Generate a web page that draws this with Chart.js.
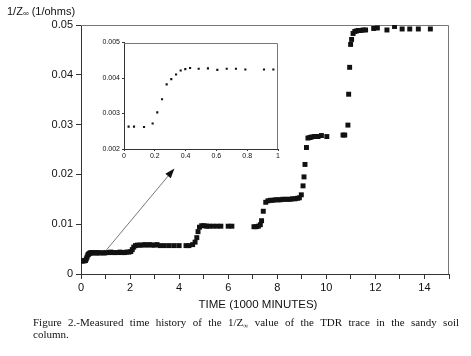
<!DOCTYPE html>
<html><head><meta charset="utf-8">
<script src="https://cdn.jsdelivr.net/npm/chart.js@4"></script>
<style>
html,body{margin:0;padding:0;background:#fff;width:471px;height:356px;overflow:hidden;}
#wrap{position:relative;width:471px;height:356px;}
#main{position:absolute;left:0;top:0;}
#inset{position:absolute;left:95px;top:36px;}
.cap{position:absolute;left:33px;width:426px;font-family:"Liberation Serif","Times New Roman",serif;font-size:11px;line-height:11px;color:#111;}
#cap1{top:317px;text-align:justify;text-align-last:justify;white-space:nowrap;}
#cap2{top:329px;white-space:nowrap;}
.inf{font-size:7px;position:relative;top:2px;}
</style></head>
<body><div id="wrap">
<canvas id="main" width="471" height="356"></canvas>
<canvas id="inset" width="190" height="128"></canvas>
<div class="cap" id="cap1">Figure 2.-Measured time history of the 1/Z<span class="inf">∞</span> value of the TDR trace in the sandy soil</div>
<div class="cap" id="cap2">column.</div>
</div>
<script>
// ---- data (time in 1000 minutes, 1/Z∞ in 1/ohms) ----
const mainTime = [0.03,0.065,0.13,0.186,0.216,0.247,0.277,0.307,0.338,0.368,0.398,0.429,0.485,0.545,0.606,0.667,0.727,0.788,0.909,0.970,
  1.03,1.12,1.21,1.30,1.38,1.50,1.59,1.68,1.77,1.86,1.95,2.03,2.09,2.15,2.22,2.30,2.40,2.50,2.60,2.70,2.80,2.90,3.00,3.10,
  3.22,3.40,3.60,3.80,4.00,4.28,4.40,4.55,4.65,4.72,4.77,4.83,4.92,5.02,5.12,5.22,5.38,5.55,5.70,6.00,6.15,
  7.05,7.14,7.23,7.31,7.36,7.43,7.53,7.62,7.72,7.82,7.92,8.02,8.12,8.22,8.32,8.42,8.52,8.62,8.72,8.82,8.90,8.98,9.05,9.09,9.13,9.19,
  9.25,9.33,9.39,9.50,9.58,9.66,9.80,10.02,10.68,10.75,10.88,10.91,10.95,10.99,11.03,11.09,11.16,11.23,11.30,11.40,11.50,11.60,
  11.93,12.08,12.47,12.78,13.09,13.40,13.75,14.24];
const mainValue = [0.00263,0.00263,0.00262,0.00272,0.00303,0.00340,0.00382,0.00397,0.00410,0.00421,0.00425,0.00428,0.00426,0.00427,0.00423,0.00426,0.00426,0.00424,0.00424,0.00424,
  0.0043,0.0043,0.0044,0.0043,0.0043,0.0043,0.0044,0.0043,0.0043,0.0044,0.0044,0.0045,0.0049,0.0054,0.0057,0.0058,0.0058,0.0058,0.0059,0.0058,0.0059,0.0058,0.0058,0.0059,
  0.0057,0.0057,0.0057,0.0057,0.0057,0.0057,0.0057,0.0059,0.0064,0.0073,0.0085,0.0094,0.0097,0.0097,0.0096,0.0096,0.0096,0.0096,0.0096,0.0096,0.0096,
  0.0095,0.0095,0.0096,0.0099,0.0107,0.0126,0.0144,0.0147,0.0148,0.0148,0.0149,0.0149,0.0149,0.0150,0.0150,0.0150,0.0150,0.0151,0.0151,0.0152,0.0153,0.0159,0.0177,0.0195,0.0220,0.0254,
  0.0273,0.0274,0.0275,0.0276,0.0276,0.0276,0.0278,0.0276,0.0279,0.0279,0.0299,0.0361,0.0415,0.0461,0.0471,0.0483,0.0487,0.0488,0.0489,0.0489,0.0490,0.0490,
  0.0493,0.0494,0.0490,0.0497,0.0492,0.0492,0.0492,0.0492];
const insetTime = [0.03,0.065,0.13,0.186,0.216,0.247,0.277,0.307,0.338,0.368,0.398,0.429,0.485,0.545,0.606,0.667,0.727,0.788,0.909,0.970];
const insetValue = [0.00263,0.00263,0.00262,0.00272,0.00303,0.00340,0.00382,0.00397,0.00410,0.00421,0.00425,0.00428,0.00426,0.00427,0.00423,0.00426,0.00426,0.00424,0.00424,0.00424];
const mainXTicks = [0,2,4,6,8,10,12,14];
const mainYTicks = ['0','0.01','0.02','0.03','0.04','0.05'];
const insetXTicks = ['0','0.2','0.4','0.6','0.8','1'];
const insetYTicks = ['0.002','0.003','0.004','0.005'];
const arrowFrom = [1.0, 0.0046];
const arrowTo = [3.81, 0.0212];
const yTitle = ['1/Z', '∞', ' (1/ohms)'];
const xTitle = 'TIME (1000 MINUTES)';

const AX = '#333', FR = '#777', SANS = '"Liberation Sans", Arial, sans-serif';

function pts(xs, ys){ return xs.map((x,i)=>({x:x, y:ys[i]})); }

const framePlugin = {
  id:'frame',
  beforeDatasetsDraw(c){
    const a=c.chartArea, ctx=c.ctx;
    ctx.save(); ctx.strokeStyle=FR; ctx.lineWidth=1;
    ctx.beginPath();
    ctx.moveTo(a.left, Math.round(a.top)+0.5);
    ctx.lineTo(Math.round(a.right)-0.5, Math.round(a.top)+0.5);
    ctx.lineTo(Math.round(a.right)-0.5, a.bottom);
    ctx.stroke(); ctx.restore();
  }
};

const mainDecor = {
  id:'mainDecor',
  beforeDraw(c){ const ctx=c.ctx; ctx.save(); ctx.fillStyle='#fff'; ctx.fillRect(0,0,c.width,c.height); ctx.restore(); },
  afterDatasetsDraw(c){
    const ctx=c.ctx, xs=c.scales.x, ys=c.scales.y;
    const x0=xs.getPixelForValue(arrowFrom[0]), y0=ys.getPixelForValue(arrowFrom[1]);
    const x1=xs.getPixelForValue(arrowTo[0]), y1=ys.getPixelForValue(arrowTo[1]);
    const ang=Math.atan2(y1-y0,x1-x0), L=10, W=3.5;
    const bx=x1-L*Math.cos(ang), by=y1-L*Math.sin(ang);
    ctx.save();
    ctx.strokeStyle='#555'; ctx.lineWidth=0.8;
    ctx.beginPath(); ctx.moveTo(x0,y0); ctx.lineTo(bx,by); ctx.stroke();
    ctx.fillStyle='#111';
    ctx.beginPath(); ctx.moveTo(x1,y1);
    ctx.lineTo(bx+W*Math.sin(ang), by-W*Math.cos(ang));
    ctx.lineTo(bx-W*Math.sin(ang), by+W*Math.cos(ang));
    ctx.closePath(); ctx.fill();
    // axis titles
    ctx.fillStyle='#111'; ctx.textBaseline='middle'; ctx.textAlign='left';
    let x=7; const y=12;
    ctx.font='11px '+SANS; ctx.fillText(yTitle[0],x,y); x+=ctx.measureText(yTitle[0]).width;
    ctx.font='8px '+SANS; ctx.fillText(yTitle[1],x,y+2); x+=ctx.measureText(yTitle[1]).width;
    ctx.font='11px '+SANS; ctx.fillText(yTitle[2],x,y);
    ctx.font='11.5px '+SANS; ctx.textAlign='center';
    ctx.fillText(xTitle,258,305);
    ctx.restore();
  }
};

new Chart(document.getElementById('main'), {
  type:'scatter',
  data:{datasets:[{data:pts(mainTime,mainValue), pointStyle:'rect', pointRadius:3.5, pointHoverRadius:3.5,
    backgroundColor:'#111', borderColor:'#111', borderWidth:0, showLine:false}]},
  options:{
    responsive:false, animation:false, devicePixelRatio:1,
    layout:{padding:{left:0,top:25,right:22,bottom:0}},
    plugins:{legend:{display:false}, tooltip:{enabled:false}},
    scales:{
      x:{type:'linear', min:0, max:15,
        afterFit(s){ s.height=82; },
        border:{display:true,color:AX,width:1},
        grid:{display:true,drawOnChartArea:false,drawTicks:true,tickLength:5,color:AX},
        ticks:{stepSize:1, autoSkip:false, maxRotation:0, padding:2, color:'#111', font:{family:SANS,size:11},
          callback:(v)=> mainXTicks.includes(v) ? String(v) : ''}},
      y:{type:'linear', min:0, max:0.05,
        afterFit(s){ s.width=81; },
        border:{display:true,color:AX,width:1},
        grid:{display:true,drawOnChartArea:false,drawTicks:true,tickLength:5,color:AX},
        ticks:{stepSize:0.01, padding:3, color:'#111', font:{family:SANS,size:11},
          callback:(v)=> mainYTicks[Math.round(v/0.01)]}}
    }
  },
  plugins:[framePlugin, mainDecor]
});

new Chart(document.getElementById('inset'), {
  type:'scatter',
  data:{datasets:[{data:pts(insetTime,insetValue), pointStyle:'rect', pointRadius:1.5, pointHoverRadius:1.5,
    backgroundColor:'#111', borderColor:'#111', borderWidth:0, showLine:false}]},
  options:{
    responsive:false, animation:false, devicePixelRatio:1,
    layout:{padding:{left:0,top:6.5,right:7,bottom:0}},
    plugins:{legend:{display:false}, tooltip:{enabled:false}},
    scales:{
      x:{type:'linear', min:0, max:1,
        afterFit(s){ s.height=15; },
        border:{display:true,color:AX,width:1},
        grid:{display:true,drawOnChartArea:false,drawTicks:true,tickLength:2,color:AX},
        ticks:{stepSize:0.2, autoSkip:false, maxRotation:0, padding:1, color:'#111', font:{family:SANS,size:7},
          callback:(v)=> insetXTicks[Math.round(v/0.2)]}},
      y:{type:'linear', min:0.002, max:0.005,
        afterFit(s){ s.width=29; },
        border:{display:true,color:AX,width:1},
        grid:{display:true,drawOnChartArea:false,drawTicks:true,tickLength:2,color:AX},
        ticks:{stepSize:0.001, padding:2, color:'#111', font:{family:SANS,size:7},
          callback:(v)=> insetYTicks[Math.round((v-0.002)/0.001)]}}
    }
  },
  plugins:[framePlugin]
});
</script>
</body></html>
